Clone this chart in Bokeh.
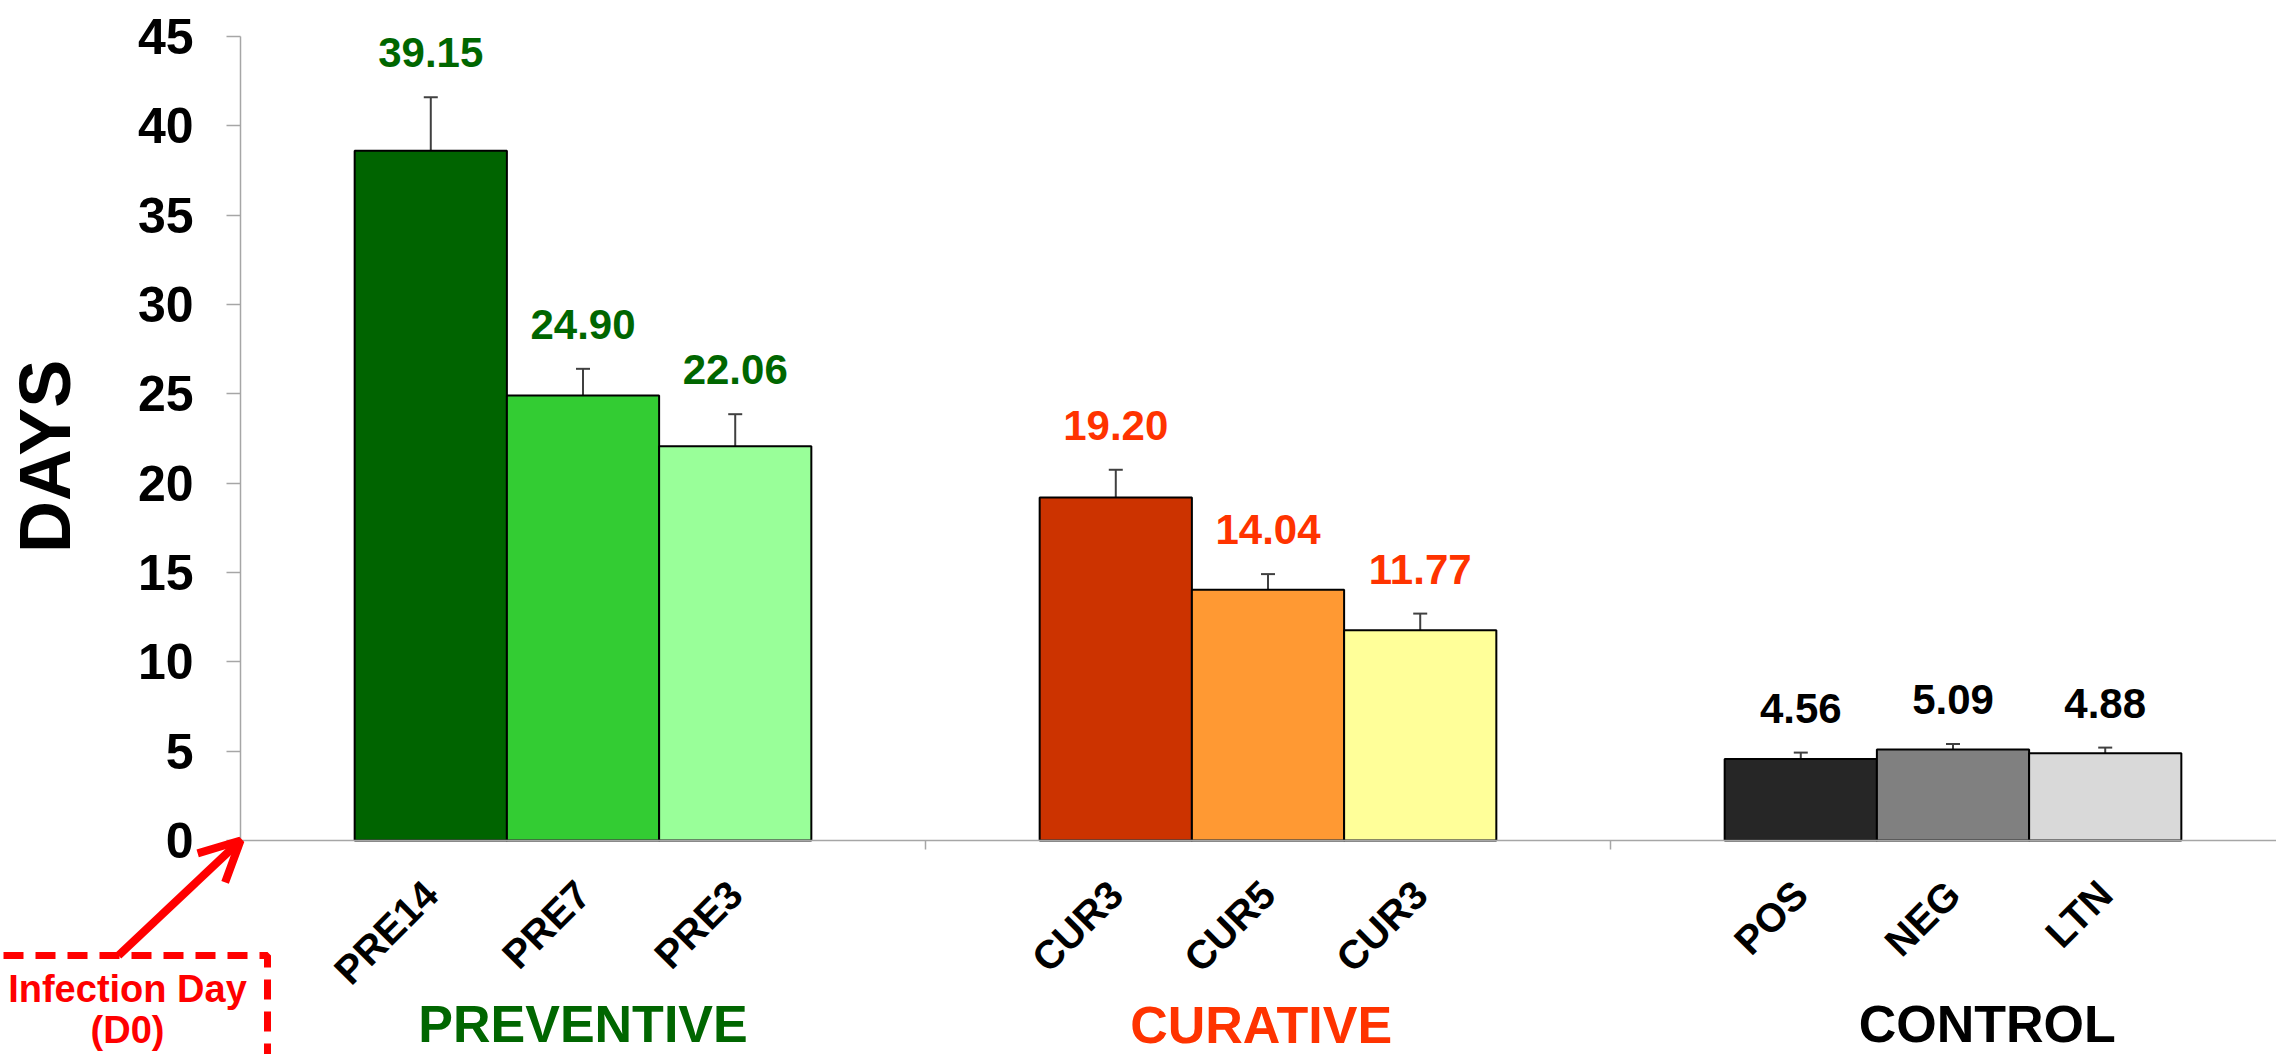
import math
from bokeh.plotting import figure
from bokeh.models import (ColumnDataSource, Range1d, FixedTicker, LabelSet,
                          Whisker, TeeHead, Arrow, OpenHead, BoxAnnotation, LinearAxis)
from bokeh.core.properties import value
from bokeh.embed import file_html
from bokeh.resources import INLINE

# ---- data ----
categories = ["PRE14", "PRE7", "PRE3", "CUR3", "CUR5", "CUR3", "POS", "NEG", "LTN"]
group_names = ["PREVENTIVE", "CURATIVE", "CONTROL"]
group_index = [0, 0, 0, 1, 1, 1, 2, 2, 2]
days = [38.6, 24.90, 22.06, 19.20, 14.04, 11.77, 4.56, 5.09, 4.88]
errors = [3.0, 1.5, 1.8, 1.55, 0.87, 0.93, 0.36, 0.31, 0.32]
value_labels = ["39.15", "24.90", "22.06", "19.20", "14.04", "11.77", "4.56", "5.09", "4.88"]
bar_colors = ["#006400", "#33CC33", "#99FF99", "#CC3300", "#FF9933", "#FFFF99",
              "#262626", "#808080", "#D9D9D9"]
group_colors = ["#006600", "#FF3300", "#000000"]
y_ticks = [0, 5, 10, 15, 20, 25, 30, 35, 40, 45]
y_title = "DAYS"
note_lines = ["Infection Day", "(D0)"]

FONT = "Liberation Sans"
BAR_W = 2 / 9
GAP = (1 - 3 * BAR_W) / 2

pos_in_group = []
counts = {}
for g in group_index:
    pos_in_group.append(counts.get(g, 0))
    counts[g] = counts.get(g, 0) + 1
xs = [g + GAP + (k + 0.5) * BAR_W for g, k in zip(group_index, pos_in_group)]
label_colors = [group_colors[g] for g in group_index]

src = ColumnDataSource(dict(
    x=xs, top=days, upper=[d + e for d, e in zip(days, errors)],
    color=bar_colors, label=value_labels, lcolor=label_colors,
))

W, H = 2276, 1054
PX_X = 685.0          # pixels per group
PX_Y = 804.0 / 45.0   # pixels per day
AX_LEFT = 240         # y axis position inside canvas
AX_BOTTOM = 840       # x axis position inside canvas
x_rng = Range1d(-AX_LEFT / PX_X, (W - AX_LEFT) / PX_X)
y_rng = Range1d(-(H - AX_BOTTOM) / PX_Y, AX_BOTTOM / PX_Y)

p = figure(width=W, height=H, output_backend="svg", toolbar_location=None,
           x_range=x_rng, y_range=y_rng, x_axis_type=None, y_axis_type=None,
           min_border=0, min_border_left=0, min_border_right=0,
           min_border_top=0, min_border_bottom=0, tools="")
p.outline_line_color = None
p.background_fill_color = "white"
p.border_fill_color = "white"

p.vbar(x="x", top="top", width=BAR_W, bottom=0, source=src,
       fill_color="color", line_color="black", line_width=2)

p.add_layout(Whisker(source=src, base="x", lower="top", upper="upper",
                     line_color="#404040", line_width=2,
                     upper_head=TeeHead(size=14, line_color="#404040", line_width=2),
                     lower_head=None))

p.add_layout(LabelSet(x="x", y="upper", text="label", source=src,
                      text_color="lcolor", text_align="center",
                      text_baseline="alphabetic", y_offset=30,
                      text_font=value(FONT), text_font_style="bold",
                      text_font_size="42px"))

# y axis (fixed at x = 0)
ya = LinearAxis(fixed_location=0, bounds=(0, 45))
ya.ticker = FixedTicker(ticks=y_ticks, minor_ticks=[])
ya.axis_line_color = "#A6A6A6"
ya.axis_line_width = 1.5
ya.major_tick_line_color = "#A6A6A6"
ya.major_tick_line_width = 1.5
ya.major_tick_in = 0
ya.major_tick_out = 14
ya.major_label_standoff = 33
ya.major_label_text_font = FONT
ya.major_label_text_font_style = "bold"
ya.major_label_text_font_size = "50px"
ya.major_label_text_color = "black"
p.add_layout(ya, "left")

# y axis title
title_src = ColumnDataSource(dict(x=[-170 / PX_X], y=[21.5], text=[y_title]))
p.add_layout(LabelSet(x="x", y="y", text="text", source=title_src, angle=math.pi / 2,
                      text_align="center", text_baseline="alphabetic",
                      text_color="black", text_font=value(FONT),
                      text_font_style="bold", text_font_size="72px"))

# x axis (fixed at y = 0)
xa = LinearAxis(fixed_location=0, bounds=(0, 3))
xa.ticker = FixedTicker(ticks=xs, minor_ticks=[0, 1, 2, 3])
xa.major_label_overrides = {x: c for x, c in zip(xs, categories)}
xa.major_label_orientation = math.pi / 4
xa.axis_line_color = "#A6A6A6"
xa.axis_line_width = 1.5
xa.major_tick_in = 0
xa.major_tick_out = 0
xa.minor_tick_in = 0
xa.minor_tick_out = 9
xa.minor_tick_line_color = "#A6A6A6"
xa.minor_tick_line_width = 1.5
xa.major_label_standoff = 38
xa.major_label_text_font = FONT
xa.major_label_text_font_style = "bold"
xa.major_label_text_font_size = "40px"
xa.major_label_text_color = "black"
p.add_layout(xa, "below")

# group labels
group_label_dx = [0.0, -0.01, 0.05]
group_label_px = [201, 202, 201]   # baseline distance below the x axis
grp_src = ColumnDataSource(dict(
    x=[gi + 0.5 + group_label_dx[gi] for gi in range(len(group_names))],
    y=[-group_label_px[gi] / PX_Y for gi in range(len(group_names))],
    text=group_names, color=group_colors))
p.add_layout(LabelSet(x="x", y="y", text="text", source=grp_src,
                      text_color="color", text_align="center",
                      text_baseline="alphabetic", text_font=value(FONT),
                      text_font_style="bold", text_font_size="52px"))

# infection day annotation
p.add_layout(BoxAnnotation(left=-1.0, right=27 / PX_X, top=-115 / PX_Y, bottom=-40,
                           fill_alpha=0, fill_color=None, line_color="#FF0000",
                           line_width=7, line_dash="20 12", line_alpha=1))
p.add_layout(Arrow(x_start=-122 / PX_X, y_start=-115 / PX_Y, x_end=0, y_end=0,
                   line_color="#FF0000", line_width=8,
                   end=OpenHead(size=40, line_color="#FF0000", line_width=8)))
note_src = ColumnDataSource(dict(x=[-113 / PX_X, -113 / PX_X],
                                 y=[-161 / PX_Y, -202 / PX_Y], text=note_lines))
p.add_layout(LabelSet(x="x", y="y", text="text", source=note_src,
                      text_align="center", text_baseline="alphabetic",
                      text_color="#FF0000", text_font=value(FONT),
                      text_font_style="bold", text_font_size="38px"))

open("out.html", "w").write(file_html(p, INLINE))
